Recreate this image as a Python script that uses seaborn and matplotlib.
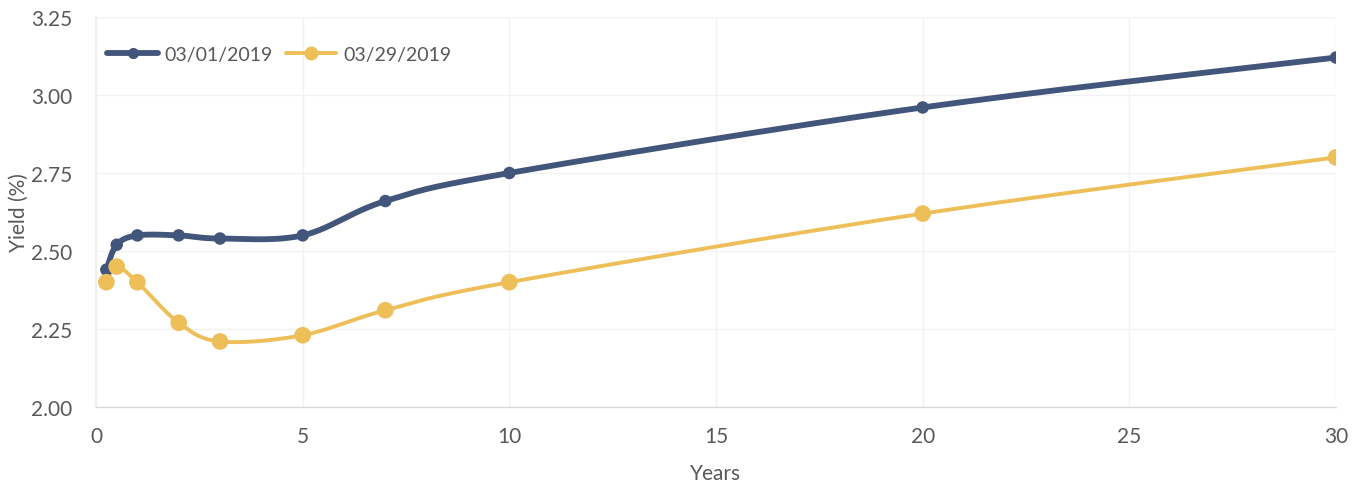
import numpy as np
import pandas as pd
import matplotlib
matplotlib.use("Agg")
import matplotlib.pyplot as plt
import seaborn as sns
from matplotlib.lines import Line2D

# Treasury maturities (years) and yields (%)
maturities = [0.25, 0.5, 1, 2, 3, 5, 7, 10, 20, 30]
yields_mar01 = [2.44, 2.52, 2.55, 2.55, 2.54, 2.55, 2.66, 2.75, 2.96, 3.12]
yields_mar29 = [2.40, 2.45, 2.40, 2.27, 2.21, 2.23, 2.31, 2.40, 2.62, 2.80]
series_labels = ["03/01/2019", "03/29/2019"]
x_ticks = [0, 5, 10, 15, 20, 25, 30]
y_ticks = [2.00, 2.25, 2.50, 2.75, 3.00, 3.25]

BLUE = "#42557A"
GOLD = "#EEBF58"
TEXT = "#595959"


def smooth_curve(x, y, steps=40):
    """Cubic Bezier smoothing through every point (Catmull-Rom style)."""
    pts = np.column_stack([x, y]).astype(float)
    n = len(pts)
    out = [pts[0]]
    t = np.linspace(0, 1, steps)[1:, None]
    for i in range(n - 1):
        p0 = pts[i - 1] if i > 0 else pts[i]
        p1 = pts[i]
        p2 = pts[i + 1]
        p3 = pts[i + 2] if i + 2 < n else pts[i + 1]
        c1 = p1 + (p2 - p0) / 6.0
        c2 = p2 - (p3 - p1) / 6.0
        seg = ((1 - t) ** 3) * p1 + 3 * ((1 - t) ** 2) * t * c1 + 3 * (1 - t) * t ** 2 * c2 + t ** 3 * p2
        out.extend(seg)
    out = np.array(out)
    return out[:, 0], out[:, 1]


sns.set_theme(style="white")
plt.rcParams["font.family"] = ["Lato", "DejaVu Sans"]

fig = plt.figure(figsize=(13.64, 4.85), dpi=100)
ax = fig.add_axes([0.0704, 0.1588, 0.9091, 0.8041])

styles = [
    (yields_mar01, BLUE, 4.2, 9),
    (yields_mar29, GOLD, 2.8, 12),
]
for (vals, color, lw, ms), label in zip(styles, series_labels):
    sx, sy = smooth_curve(maturities, vals)
    sns.lineplot(x=sx, y=sy, ax=ax, color=color, linewidth=lw, sort=False,
                 estimator=None, zorder=2)
    sns.scatterplot(x=maturities, y=vals, ax=ax, color=color, s=ms ** 2,
                    edgecolor="none", linewidth=0, zorder=3)

ax.set_xlim(0, 30)
ax.set_ylim(2.0, 3.25)
ax.set_xticks(x_ticks)
ax.set_yticks(y_ticks)
ax.set_xticklabels([str(v) for v in x_ticks])
ax.set_yticklabels([f"{v:.2f}" for v in y_ticks])

ax.grid(True, axis="both", color="#F2F2F2", linewidth=1.0, zorder=0)
for side in ["top", "right"]:
    ax.spines[side].set_visible(False)
ax.spines["left"].set_color("#F0F0F0")
ax.spines["bottom"].set_color("#D9D9D9")
ax.spines["bottom"].set_linewidth(1.0)
ax.tick_params(axis="x", colors=TEXT, labelsize=15, length=5, width=1,
               color="#D9D9D9", pad=14, direction="in")
ax.tick_params(axis="y", colors=TEXT, labelsize=15, length=0, pad=17)

ax.set_xlabel("Years", color=TEXT, fontsize=15, labelpad=12)
ax.set_ylabel("Yield (%)", color=TEXT, fontsize=15, labelpad=2)

handles = [
    Line2D([0], [0], color=BLUE, lw=4.2, marker="o", markersize=7),
    Line2D([0], [0], color=GOLD, lw=2.8, marker="o", markersize=9),
]
leg = ax.legend(handles, series_labels, loc="upper left", ncol=2, frameon=False,
                fontsize=14, handlelength=2.6, handletextpad=0.35, columnspacing=0.65,
                bbox_to_anchor=(-0.005, 0.97), labelcolor=TEXT)

fig.savefig("out.png", dpi=100, facecolor="white")
